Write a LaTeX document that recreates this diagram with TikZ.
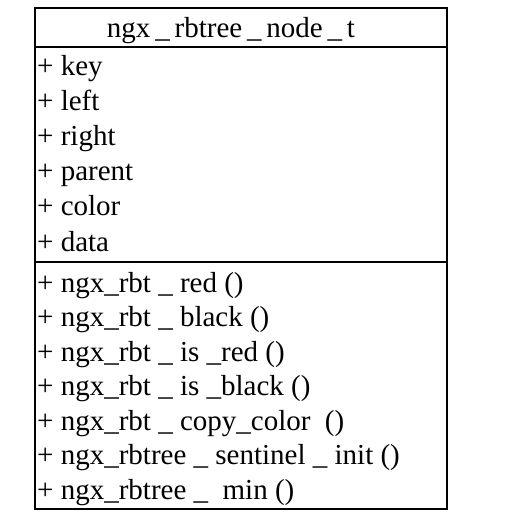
\documentclass[tikz,border=0pt]{standalone}
\usepackage{fontspec}
\setmainfont{Liberation Serif}
\usepackage{tikz}
\usetikzlibrary{positioning, calc}

\newcommand{\umlfont}{\fontsize{29}{34}\selectfont}

\begin{document}
\begin{tikzpicture}[
    x=1pt, y=-1pt,
    classbox/.style={draw=black, line width=1.7pt},
    sepline/.style={draw=black, line width=1.3pt},
    member/.style={anchor=base west, inner sep=0pt, font=\umlfont},
    classname/.style={anchor=base, inner sep=0pt, font=\umlfont}
]
\useasboundingbox (0,0) rectangle (515,525);

% ==================== CLASS BOX ====================
\coordinate (box_nw) at (35,8);
\coordinate (box_se) at (447,509);
\draw[classbox] (box_nw) rectangle (box_se);
\draw[sepline] (35,47) -- (447,47);
\draw[sepline] (35,262) -- (447,262);

% ==================== CLASS NAME ====================
\node[classname] (name) at (231,37) {ngx\,\_\,rbtree\,\_\,node\,\_\,t};

% ==================== ATTRIBUTES ====================
\foreach \id/\txt [count=\i from 0] in {key/key, left/left, right/right, parent/parent, color/color, data/data}
    \node[member] (attr_\id) at (37,{75+35.2*\i}) {+ \txt};

% ==================== OPERATIONS ====================
\foreach \id/\txt [count=\i from 0] in {
    red/ngx\_rbt \_ red (),
    black/ngx\_rbt \_ black (),
    isred/ngx\_rbt \_ is \_red (),
    isblack/ngx\_rbt \_ is \_black (),
    copycolor/ngx\_rbt \_ copy\_color \ (),
    sentinel/ngx\_rbtree \_ sentinel \_ init (),
    min/ngx\_rbtree \_ \ min ()}
    \node[member] (op_\id) at (37,{292+34.5*\i}) {+ \txt};

\end{tikzpicture}
\end{document}
